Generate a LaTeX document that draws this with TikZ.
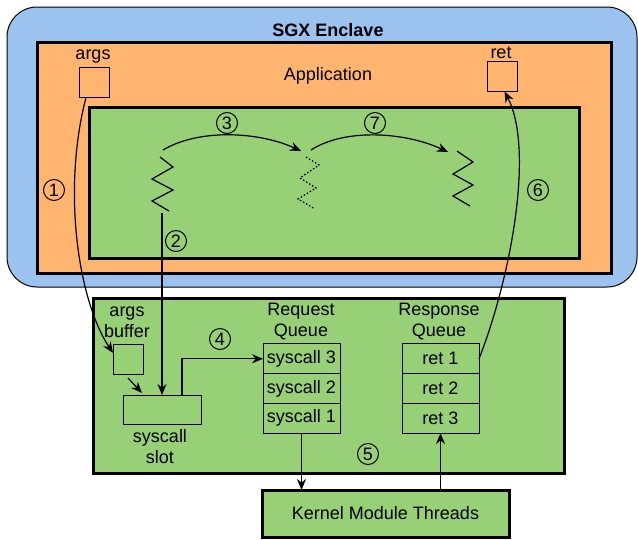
\documentclass[tikz,border=0pt]{standalone}
\usepackage{fontspec}
\setmainfont{Liberation Sans}
\usetikzlibrary{positioning,arrows.meta}
\definecolor{enclaveblue}{HTML}{9CC3F0}
\definecolor{apporange}{HTML}{FFB570}
\definecolor{modgreen}{HTML}{97D077}

\begin{document}
\begin{tikzpicture}[x=1pt,y=-1pt,>={Stealth[length=11pt,width=9pt]},line width=1.2pt,
    every node/.style={font=\fontsize{18}{21}\selectfont, inner sep=0pt, outer sep=0pt, align=center},
    frame/.style={draw, line width=3pt, fill=modgreen},
    box/.style={draw, line width=1pt, minimum size=30pt},
    cell/.style={draw, line width=1pt, minimum width=77pt, minimum height=29.7pt},
    num/.style={draw, circle, line width=1pt, minimum size=21pt}]
    \useasboundingbox (0,0) rectangle (638,539);
    % enclave and application
    \draw[fill=enclaveblue, rounded corners=30pt, line width=1pt] (7,7) rectangle (637,287);
    \draw[frame, fill=apporange] (37,42) rectangle (611,273);
    \draw[frame] (89,107) rectangle (579,258);
    \node (enclave) at (328,30) {\bfseries SGX Enclave};
    \node (app) at (328,76) {Application};
    \node (argslabel) at (93,57) {args};
    \node (argsvar) [box] at (94,82.5) {};
    \node (retlabel) at (501,53) {ret};
    \node (retvar) [box] at (502.5,76.5) {};
    % threads
    \coordinate (thrAtop) at (163,150);
    \coordinate (thrAbot) at (162,213);
    \coordinate (thrBtop) at (301,151);
    \coordinate (thrBstart) at (311,150);
    \coordinate (thrCtop) at (448,152);
    \draw (160,157) -- (173,167) -- (152,179) -- (173,190) -- (152,201) -- (169,211);
    \draw[dash pattern=on 1.5pt off 2pt] (306,157) -- (319,165) -- (300,178) -- (316,188) -- (298,199) -- (315,209);
    \draw (457,151) -- (473,162) -- (453,174) -- (473,185) -- (453,196) -- (470,206);
    % module
    \draw[frame] (93,298) rectangle (564,473);
    \node (buflabel) at (127,322) {args\\buffer};
    \node (argsbuf) [box] at (128,359) {};
    \node (slot) [box, minimum width=78pt, minimum height=29pt] at (162,409.5) {};
    \node (slotlabel) at (160,447) {syscall\\slot};
    \node (reqlabel) at (301,322) {Request\\Queue};
    \node (req3) [cell] at (301.5,358.8) {syscall 3};
    \node (req2) [cell, below=0pt of req3] {syscall 2};
    \node (req1) [cell, below=0pt of req2] {syscall 1};
    \node (resplabel) at (439,322) {Response\\Queue};
    \node (resp1) [cell] at (440.5,358.8) {ret 1};
    \node (resp2) [cell, below=0pt of resp1] {ret 2};
    \node (resp3) [cell, below=0pt of resp2] {ret 3};
    \node (kernel) [frame, minimum width=247pt, minimum height=47pt] at (385.5,513.5) {Kernel Module Threads};
    % steps
    \draw[->] ([xshift=-8pt]argsvar.south) .. controls (62,190) and (78,300) .. ([yshift=6pt]argsbuf.west);
    \node (s1) [num] at (54,190) {1};
    \draw[->] (thrAbot) -- (slot.north);
    \node (s2) [num] at (176,241) {2};
    \draw[->] (thrAtop) .. controls (200,128) and (260,132) .. (thrBtop);
    \node (s3) [num] at (227,123) {3};
    \draw[->] ([yshift=-4pt]argsbuf.south) -- ([xshift=-20pt,yshift=2pt]slot.north);
    \draw[->] ([xshift=20pt]slot.north) |- (req3.west);
    \node (s4) [num] at (220,339) {4};
    \draw[->] (req1.south) -- (req1.south |- kernel.north);
    \draw[->] (resp3.south |- kernel.north) -- (resp3.south);
    \node (s5) [num] at (368,454) {5};
    \draw[->] (resp1.east) .. controls (510,280) and (535,150) .. ([xshift=2pt]retvar.south);
    \node (s6) [num] at (538,190) {6};
    \draw[->] (thrBstart) .. controls (345,128) and (405,132) .. (thrCtop);
    \node (s7) [num] at (375,123) {7};
\end{tikzpicture}
\end{document}
